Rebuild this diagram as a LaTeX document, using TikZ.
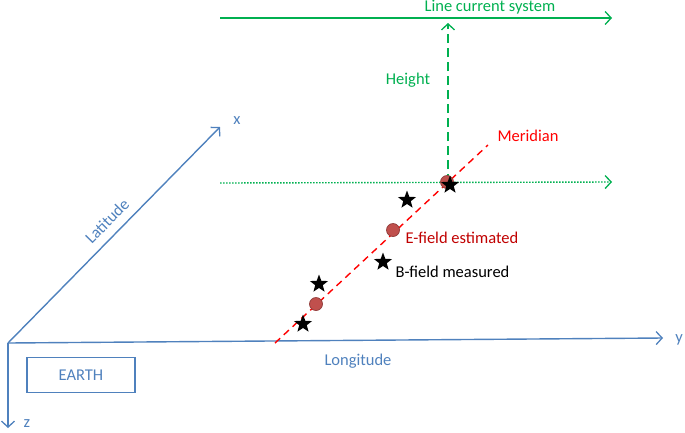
\documentclass[tikz,border=0pt]{standalone}
\usepackage{fontspec}
\setmainfont{Carlito}
\usetikzlibrary{arrows.meta, shapes.geometric}
\definecolor{axisblue}{RGB}{79,129,189}
\definecolor{curgreen}{RGB}{0,176,80}
\definecolor{merred}{RGB}{255,0,0}
\definecolor{estred}{RGB}{192,0,0}
\definecolor{dotred}{RGB}{192,80,77}

\begin{document}
\begin{tikzpicture}
	[x=1pt, y=-1pt,%
	every node/.style={font=\fontsize{16.5}{19}\selectfont},%
	axis/.style   ={draw=axisblue,	line width=1.4pt,	-{Straight Barb[length=6pt,width=13pt,line width=1.3pt]}},%
	current/.style={draw=curgreen,	line width=1.4pt,	-{Straight Barb[length=6pt,width=13pt,line width=1.3pt]}},%
	meridian/.style={draw=merred,	line width=1.4pt,	dash pattern=on 7pt off 5pt},%
	efield/.style ={circle,	draw=dotred!75!black,	fill=dotred,	line width=0.7pt,	inner sep=0pt,	minimum size=13pt},%
	bfield/.style ={star,	star points=5,	star point ratio=2.4,	fill=black,	inner sep=0pt,	minimum size=19pt},%
	]

	\useasboundingbox (0,0) rectangle (685,432);

	% axes
	\coordinate (origin) at (8,343);
	\coordinate (xtip) at (220,127);
	\coordinate (ytip) at (663,338);
	\coordinate (ztip) at (8,428);
	\draw [axis] (origin) -- (xtip);
	\draw [axis] (origin) -- (ytip);
	\draw [axis] (origin) -- (ztip);
	\node [text=axisblue] (xlabel) at (237,121) {x};
	\node [text=axisblue] (ylabel) at (679,340) {y};
	\node [text=axisblue] (zlabel) at (27,424) {z};
	\node [text=axisblue, rotate=45.5] (latitude) at (107,221) {Latitude};
	\node [text=axisblue] (longitude) at (358,361) {Longitude};
	\node [draw=axisblue, line width=1.4pt, text=axisblue, minimum width=108pt, minimum height=35pt] (earth) at (81,375) {EARTH};

	% line current system
	\coordinate (topstart) at (220,18);
	\coordinate (topend) at (612,18);
	\coordinate (lowstart) at (220,183);
	\coordinate (lowend) at (612,182);
	\draw [current] (topstart) -- (topend);
	\draw [current, dash pattern=on 1.5pt off 1.5pt] (lowstart) -- (lowend);
	\node [text=curgreen] (linecur) at (490,7) {Line current system};
	\coordinate (hfoot) at (448,183);
	\coordinate (htop) at (448,23);
	\draw [current, dash pattern=on 9pt off 5pt] (hfoot) -- (htop);
	\node [text=curgreen] (height) at (408,80) {Height};

	% meridian
	\coordinate (merstart) at (275,343);
	\coordinate (merend) at (488,145);
	\draw [meridian] (merstart) -- (merend);
	\node [text=merred] (merlabel) at (528,136) {Meridian};

	% estimated E-field
	\foreach \x/\y [count=\i] in {447/182, 393/230, 316/304}
		\node [efield] (efield\i) at (\x,\y) {};
	\node [text=estred, anchor=west] (elabel) at (402,238) {E-field estimated};

	% measured B-field
	\foreach \x/\y [count=\i] in {450/185, 407/200, 383/262, 319/284, 303/324}
		\node [bfield] (bfield\i) at (\x,\y) {};
	\node [anchor=west] (blabel) at (392,272) {B-field measured};

\end{tikzpicture}
\end{document}
